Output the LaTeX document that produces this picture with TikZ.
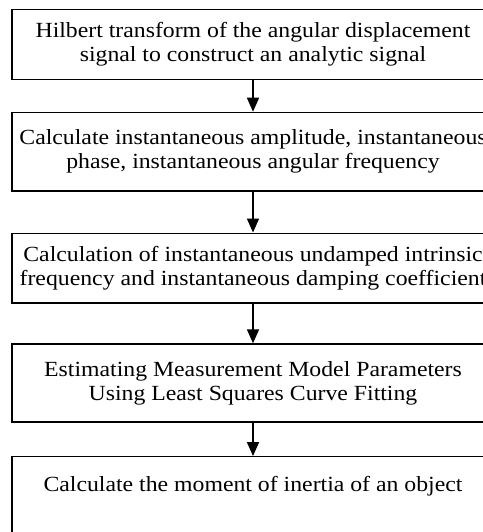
\documentclass[tikz,border=0pt]{standalone}
\usepackage{fontspec}
\setmainfont[FakeStretch=1.1]{Liberation Serif}
\usetikzlibrary{arrows.meta,positioning}

\begin{document}
\begin{tikzpicture}[x=1pt,y=1pt,>={Triangle[length=14pt,width=12pt]},
  stepbox/.style={draw,line width=1.3pt,minimum width=482pt,inner sep=0pt,align=center,
    font=\fontsize{21.6}{24}\selectfont}]
  \useasboundingbox (0,0) rectangle (482,-532);
  \node[stepbox,minimum height=70pt] (hilbert) at (253,-44.3)
    {Hilbert transform of the angular displacement\\signal to construct an analytic signal};
  \node[stepbox,minimum height=78.7pt] (inst) at (253,-151.7)
    {Calculate instantaneous amplitude, instantaneous\\phase, instantaneous angular frequency};
  \node[stepbox,minimum height=69.7pt] (damp) at (253,-268)
    {Calculation of instantaneous undamped intrinsic\\frequency and instantaneous damping coefficient};
  \node[stepbox,minimum height=78pt] (fit) at (253,-383)
    {Estimating Measurement Model Parameters\\Using Least Squares Curve Fitting};
  \node[stepbox,anchor=base,text height=34.3pt,text depth=44pt] (inertia) at (253,-491)
    {Calculate the moment of inertia of an object};
  % arrows between steps
  \foreach \a/\b in {hilbert/inst,inst/damp,damp/fit,fit/inertia}{
    \draw[->,line width=1.5pt] (\a) -- (\b);
  }
\end{tikzpicture}
\end{document}
